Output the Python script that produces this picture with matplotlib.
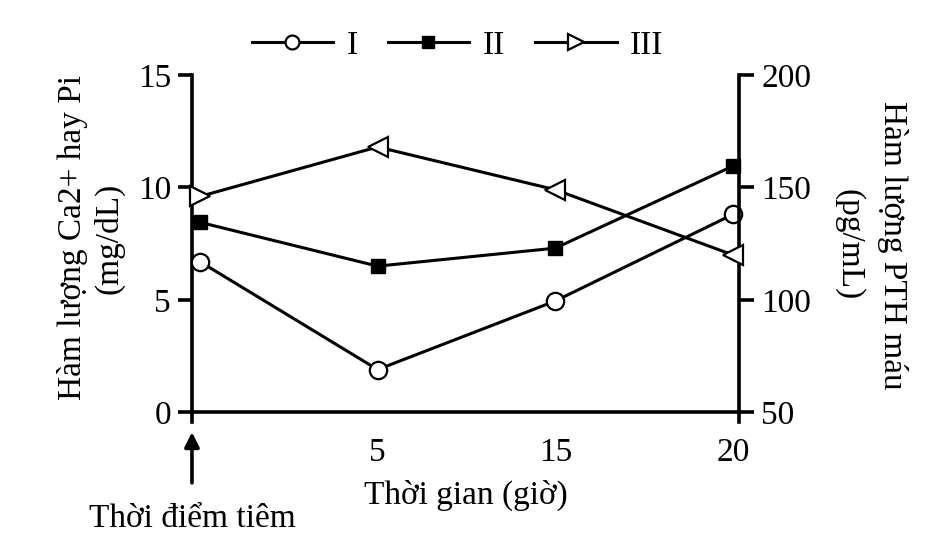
import matplotlib
matplotlib.use("Agg")
import matplotlib.pyplot as plt
from matplotlib.lines import Line2D

# ---- data ----
time_labels = ["0", "5", "15", "20"]
series_I = [6.7, 1.9, 4.95, 8.8]        # mg/dL (left axis)
series_II = [8.45, 6.5, 7.3, 10.95]     # mg/dL (left axis)
series_III = [146, 168, 149, 120]       # pg/mL (right axis, PTH)
legend_labels = ["I", "II", "III"]

plt.rcParams['font.family'] = ['Liberation Serif', 'DejaVu Serif']
FS = 24
LW = 2.2
SP = 2.6

fig = plt.figure(figsize=(9.47, 5.54), dpi=100)
ax = fig.add_axes([0.2027, 0.2375, 0.5776, 0.6271])
ax2 = ax.twinx()

x = list(range(len(time_labels)))
ymin_l = -0.45
ax.set_ylim(ymin_l, 15)
ax2.set_ylim(50 + 10 * ymin_l, 200)
ax.set_xlim(-0.045, 3.034)

ax.plot(x, series_I, color='black', lw=LW, marker='o', ms=12.5,
        mfc='white', mec='black', mew=1.6, zorder=3, clip_on=False)
ax.plot(x, series_II, color='black', lw=LW, marker='s', ms=9.5,
        mfc='black', mec='black', zorder=3, clip_on=False)
ax2.plot(x, series_III, color='black', lw=LW, zorder=3, clip_on=False)
tri_markers = ['>', '<', '<', '<']
for xi, yi, m in zip(x, series_III, tri_markers):
    ax2.plot([xi], [yi], linestyle='none', marker=m, ms=15, mfc='white',
             mec='black', mew=1.6, zorder=4, clip_on=False)

# spines
for a in (ax, ax2):
    a.spines['top'].set_visible(False)
    for s in ('left', 'right', 'bottom'):
        a.spines[s].set_linewidth(SP)
ax.spines['bottom'].set_position(('data', 0))
ax2.spines['bottom'].set_visible(False)
ax.spines['right'].set_visible(False)
ax2.spines['left'].set_visible(False)

ax.set_yticks([0, 5, 10, 15])
ax2.set_yticks([50, 100, 150, 200])
ax.tick_params(axis='y', direction='out', length=10, width=SP, pad=5,
               labelsize=FS)
ax2.tick_params(axis='y', direction='out', length=11, width=SP, pad=5,
                labelsize=FS)
ax.set_xticks(x[1:])
ax.set_xticklabels(time_labels[1:])
ax.tick_params(axis='x', length=0, pad=18, labelsize=FS)

ax.set_xlabel("Thời gian (giờ)", fontsize=FS)
ax.xaxis.set_label_coords(0.5, -0.165)

ax.set_ylabel("Hàm lượng Ca2+ hay Pi\n(mg/dL)", fontsize=FS,
              ha='center', va='center', multialignment='center',
              linespacing=1.2)
ax.yaxis.set_label_coords(-0.1846, 0.531)
ax2.set_ylabel("Hàm lượng PTH máu\n(pg/mL)", fontsize=FS, rotation=270,
               ha='center', va='center', multialignment='center',
               linespacing=1.55)
ax2.yaxis.set_label_coords(1.241, 0.511)

# injection arrow
ax.annotate('', xy=(0, -0.028), xytext=(0, -0.174),
            xycoords='axes fraction', textcoords='axes fraction',
            arrowprops=dict(arrowstyle='-|>', lw=2.6, color='black',
                            mutation_scale=22, shrinkA=0, shrinkB=0))
ax.text(0, -0.301, "Thời điểm tiêm", transform=ax.transAxes,
        ha='center', va='baseline', fontsize=FS)

handles = [
    Line2D([], [], color='black', lw=LW, marker='o', ms=10, mfc='white',
           mec='black', mew=1.6),
    Line2D([], [], color='black', lw=LW, marker='s', ms=8.5, mfc='black',
           mec='black'),
    Line2D([], [], color='black', lw=LW, marker='>', ms=12, mfc='white',
           mec='black', mew=1.6),
]
fig.legend(handles, legend_labels, loc='center', bbox_to_anchor=(0.483, 0.918),
           ncol=3, frameon=False, fontsize=FS, handlelength=2.45,
           handletextpad=0.4, columnspacing=0.9, borderpad=0)

fig.savefig("out.png", dpi=100)
